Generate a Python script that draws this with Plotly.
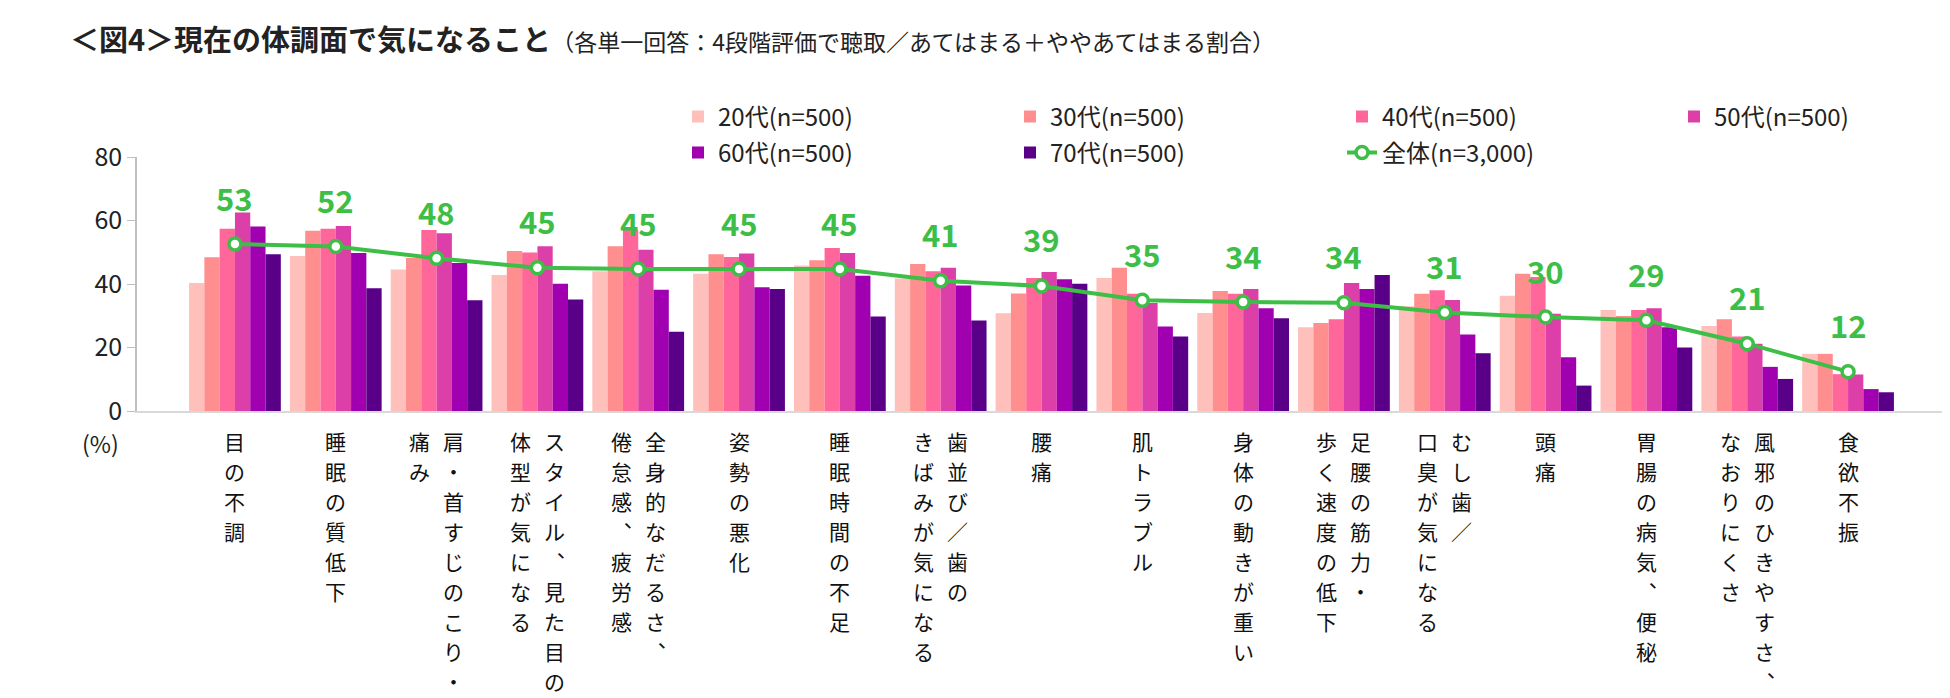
import plotly.graph_objects as go

# 現在の体調面で気になること（あてはまる＋ややあてはまる割合, %）
categories = [
    "目の不調", "睡眠の質低下", "肩・首すじのこり・痛み", "スタイル、見た目の体型が気になる",
    "全身的なだるさ、倦怠感、疲労感", "姿勢の悪化", "睡眠時間の不足", "歯並び／歯のきばみが気になる",
    "腰痛", "肌トラブル", "身体の動きが重い", "足腰の筋力・歩く速度の低下",
    "むし歯／口臭が気になる", "頭痛", "胃腸の病気、便秘", "風邪のひきやすさ、なおりにくさ", "食欲不振",
]
# vertical label columns, right column first
label_cols = [
    ["目の不調"], ["睡眠の質低下"], ["肩・首すじのこり・", "痛み"], ["スタイル、見た目の", "体型が気になる"],
    ["全身的なだるさ、", "倦怠感、疲労感"], ["姿勢の悪化"], ["睡眠時間の不足"], ["歯並び／歯の", "きばみが気になる"],
    ["腰痛"], ["肌トラブル"], ["身体の動きが重い"], ["足腰の筋力・", "歩く速度の低下"],
    ["むし歯／", "口臭が気になる"], ["頭痛"], ["胃腸の病気、便秘"], ["風邪のひきやすさ、", "なおりにくさ"], ["食欲不振"],
]

age_20 = [40.3, 48.8, 44.6, 42.8, 44.0, 43.2, 45.8, 41.7, 30.8, 41.9, 30.9, 26.4, 33.0, 36.3, 31.8, 26.8, 18.0]
age_30 = [48.4, 56.8, 48.2, 50.4, 51.9, 49.4, 47.5, 46.3, 37.0, 45.1, 37.8, 27.7, 36.9, 43.2, 29.9, 28.9, 18.0]
age_40 = [57.4, 57.4, 57.0, 49.9, 57.0, 48.5, 51.3, 44.0, 41.9, 36.9, 36.9, 28.9, 38.0, 42.2, 31.8, 23.5, 11.6]
age_50 = [62.5, 58.3, 56.0, 51.9, 50.8, 49.6, 49.8, 45.1, 43.8, 34.0, 38.4, 40.3, 35.0, 30.6, 32.4, 21.2, 11.5]
age_60 = [58.1, 49.8, 46.6, 40.1, 38.2, 39.0, 42.6, 39.5, 41.5, 26.6, 32.4, 38.4, 24.1, 16.9, 26.4, 13.9, 6.9]
age_70 = [49.4, 38.7, 34.9, 35.1, 25.0, 38.4, 29.8, 28.5, 40.1, 23.5, 29.2, 42.8, 18.2, 8.0, 20.0, 10.1, 5.9]
overall = [52.6, 51.8, 48.1, 45.1, 44.7, 44.7, 44.7, 41.0, 39.4, 34.9, 34.3, 34.1, 31.0, 29.6, 28.6, 21.2, 12.4]

series_names = ["20代(n=500)", "30代(n=500)", "40代(n=500)", "50代(n=500)", "60代(n=500)", "70代(n=500)"]
series_values = [age_20, age_30, age_40, age_50, age_60, age_70]
series_colors = ["#FFBFBB", "#FF8E8E", "#FF6699", "#DD3FA8", "#A000B0", "#5A0088"]
overall_name = "全体(n=3,000)"
green = "#3DBE47"

FONT = "Noto Sans CJK JP"
W, H = 1950, 698
M_L, M_R, M_T, M_B = 129, 12, 149, 295
PLOT_W, PLOT_H = W - M_L - M_R, H - M_T - M_B

# one legend box per entry: 4 columns, 2 rows (pixel positions of each box)
legend_cols = [670, 1002, 1334, 1666]
legend_rows = [109, 145]
legend_ids = ["legend", "legend2", "legend3", "legend4", "legend5", "legend6", "legend7"]

fig = go.Figure()
for name, vals, col, lg in zip(series_names, series_values, series_colors, legend_ids):
    fig.add_trace(go.Bar(
        x=categories, y=vals, name=name, marker_color=col, marker_line_width=0,
        legend=lg, showlegend=True,
    ))

fig.add_trace(go.Scatter(
    x=categories, y=overall, name=overall_name, mode="lines+markers",
    line=dict(color=green, width=4),
    marker=dict(size=12, color="white", line=dict(color=green, width=3.5)),
    legend=legend_ids[6], showlegend=True,
))

annotations = []
# value labels for overall line
for c, v in zip(categories, overall):
    annotations.append(dict(
        x=c, y=v, xref="x", yref="y", text=f"<b>{round(v)}</b>", showarrow=False,
        yshift=47, font=dict(family=FONT, size=31, color=green),
    ))

# vertical category labels under the axis, one character per cell
VERT = {"、": "︑"}
PITCH = 30
for c, cols in zip(categories, label_cols):
    n = len(cols)
    for j, txt in enumerate(cols):
        shift = 0 if n == 1 else (17 if j == 0 else -17)
        for k, ch in enumerate(txt):
            annotations.append(dict(
                x=c, y=0, xref="x", yref="paper", yanchor="top", xanchor="center",
                text=VERT.get(ch, ch), showarrow=False,
                xshift=shift, yshift=-13 - PITCH * k,
                font=dict(family=FONT, size=21, color="#111"),
            ))

annotations.append(dict(
    x=0, y=0, xref="paper", yref="paper", text="(%)", showarrow=False,
    xanchor="right", yanchor="middle", xshift=-16, yshift=-32,
    font=dict(family=FONT, size=23, color="#222"),
))


def legend_box(px, py):
    return dict(
        orientation="h",
        x=(px - M_L) / PLOT_W, xanchor="left",
        y=(H - M_B - py) / PLOT_H, yanchor="middle",
        font=dict(family=FONT, size=24, color="#222"),
        bgcolor="rgba(0,0,0,0)", itemwidth=30,
    )


legend_layout = {}
for i, lg in enumerate(legend_ids):
    legend_layout[lg] = legend_box(legend_cols[i % 4], legend_rows[i // 4])

fig.update_layout(
    width=W, height=H,
    margin=dict(l=M_L, r=M_R, t=M_T, b=M_B),
    paper_bgcolor="white", plot_bgcolor="white",
    font=dict(family=FONT, color="#222"),
    showlegend=True,
    barmode="group", bargap=0.09, bargroupgap=0,
    title=dict(
        text="<b>＜図4＞現在の体調面で気になること</b>"
             "<span style='font-size:23px'>（各単一回答：4段階評価で聴取／あてはまる＋ややあてはまる割合）</span>",
        x=62 / W, xanchor="left", xref="container",
        y=1 - 33 / H, yanchor="middle", yref="container",
        font=dict(family=FONT, size=29, color="#222"),
    ),
    annotations=annotations,
    **legend_layout,
)

fig.update_xaxes(
    showticklabels=False, showline=True, linecolor="#D9D9D9", linewidth=2,
    ticks="", showgrid=False, zeroline=False,
)
fig.update_yaxes(
    range=[0, 80], dtick=20, showline=True, linecolor="#BFBFBF", linewidth=1.5,
    ticks="outside", ticklen=8, tickcolor="#BFBFBF", showgrid=False, zeroline=False,
    tickfont=dict(family=FONT, size=25, color="#222"),
)

fig.write_html("out.html")
